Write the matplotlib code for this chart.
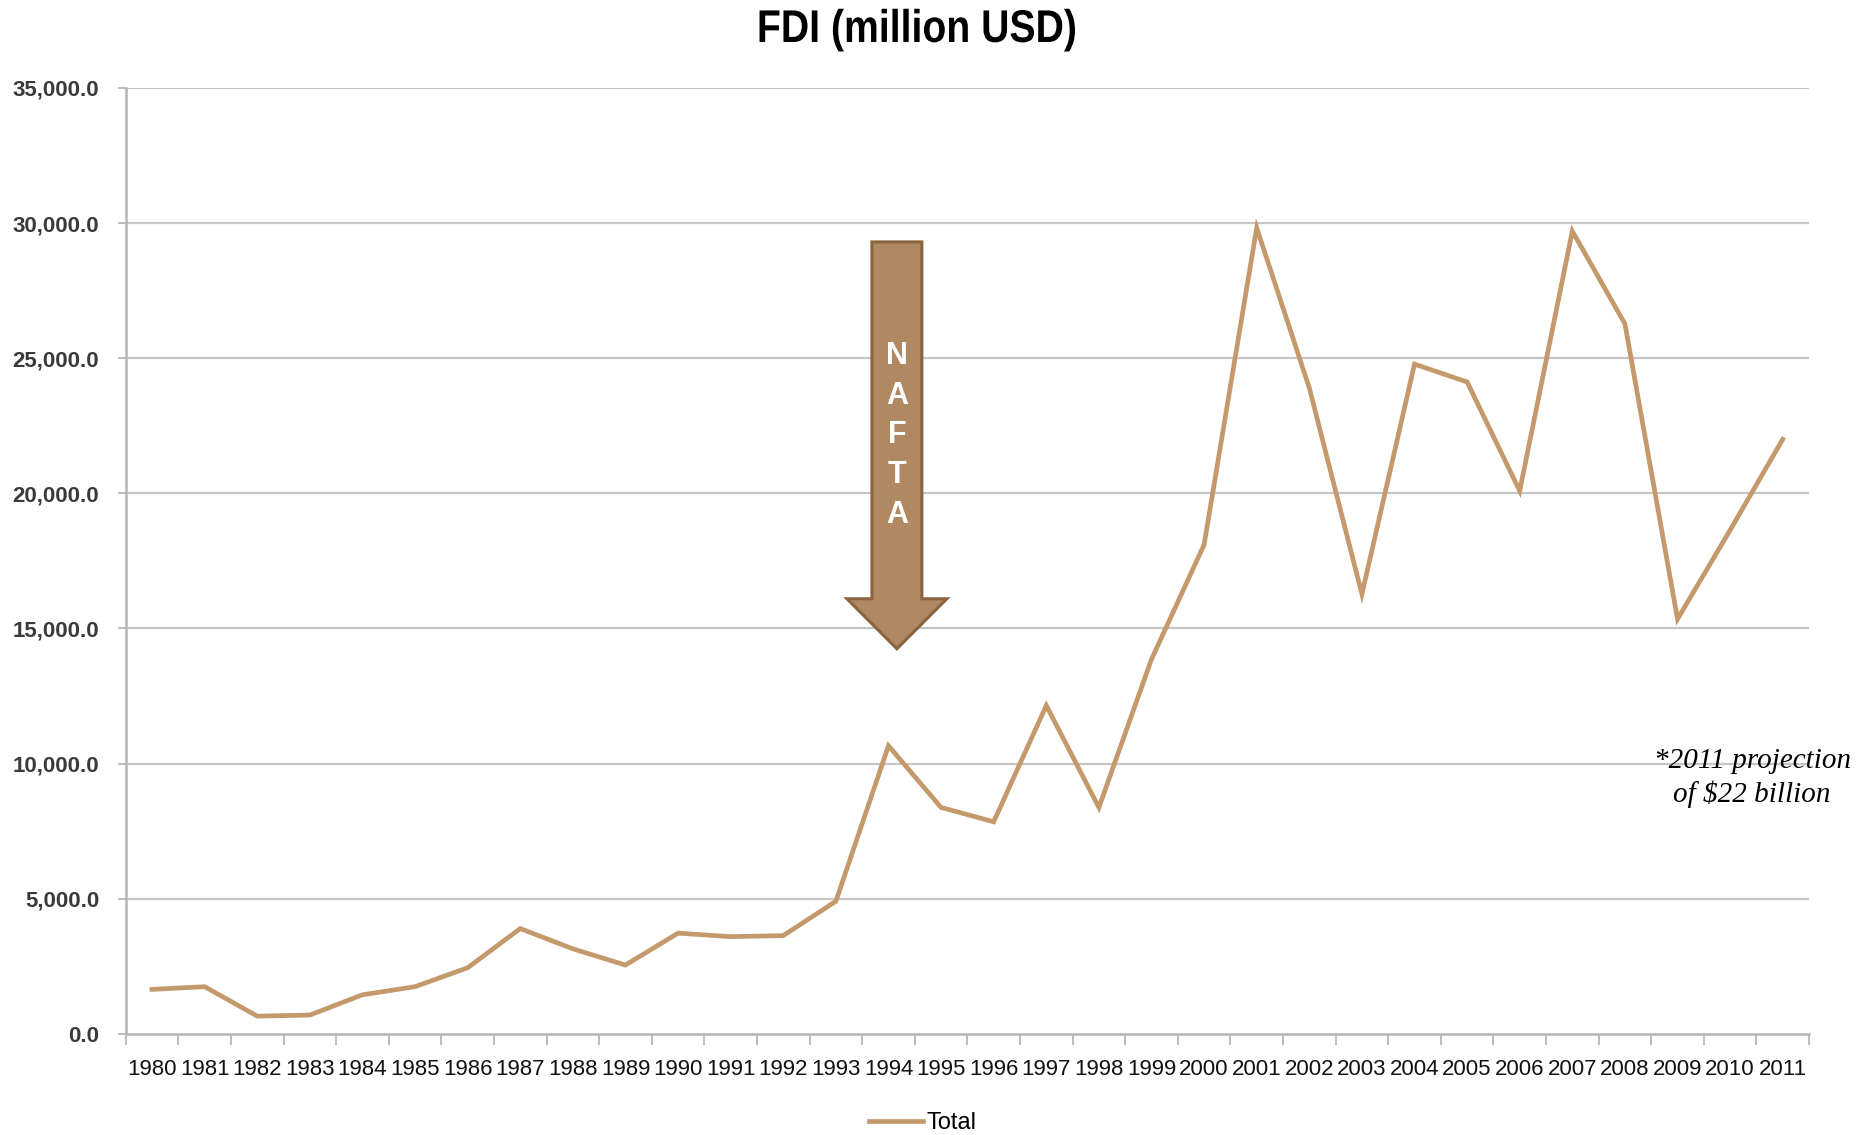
import matplotlib
matplotlib.use('Agg')
from matplotlib import pyplot as plt
from matplotlib.patches import FancyArrow
from matplotlib.patheffects import AbstractPathEffect
from matplotlib.transforms import Affine2D
import numpy as np

years = [str(y) for y in range(1980, 2012)]
fdi_total = [
    1650, 1750, 660, 700, 1450, 1750, 2450, 3900, 3150, 2550,
    3730, 3600, 3640, 4910, 10660, 8380, 7850, 12150, 8380, 13860,
    18100, 29820, 23900, 16270, 24780, 24120, 20090, 29700, 26270, 15350,
    18640, 22000,
]
yticks = [0, 5000, 10000, 15000, 20000, 25000, 30000, 35000]

line_color = '#C49A6C'


class Narrow(AbstractPathEffect):
    """Squeeze text horizontally about its centre (no condensed font here)."""

    def __init__(self, factor):
        super().__init__()
        self.factor = factor

    def draw_path(self, renderer, gc, tpath, affine, rgbFace=None):
        box = tpath.get_extents(affine)
        cx = 0.5 * (box.x0 + box.x1)
        squeeze = Affine2D().translate(-cx, 0).scale(self.factor, 1).translate(cx, 0)
        renderer.draw_path(gc, tpath, affine + squeeze, rgbFace)


fig = plt.figure(figsize=(18.6, 11.35), dpi=100)
ax = fig.add_axes([0.0676, 0.089, 0.905, 0.8336])

x = np.arange(len(years))
ax.plot(x, fdi_total, color=line_color, linewidth=3.4, label='Total',
        solid_joinstyle='miter', zorder=3)

ax.set_xlim(-0.5, len(years) - 0.5)
ax.set_ylim(0, 35000)

# gridlines only above zero, zero is the axis line itself
ax.set_yticks(yticks)
ax.set_yticklabels([f'{v:,.1f}' for v in yticks], fontsize=16,
                   fontweight='bold', color='#3a3a3a', family='Liberation Sans')
for v in yticks[1:]:
    ax.axhline(v, color='#c6c6c6', linewidth=1.6, zorder=1)

# category axis: ticks between years, labels centred on years
ax.set_xticks(np.arange(-0.5, len(years), 1.0))
ax.set_xticklabels([])
ax.set_xticks(x, minor=True)
ax.set_xticklabels(years, minor=True, fontsize=16, family='Liberation Sans',
                   color='#111111')
ax.tick_params(axis='x', which='major', length=8, width=1.2, color='#b0b0b0')
ax.tick_params(axis='x', which='minor', length=0, pad=18)
ax.tick_params(axis='y', length=6, width=1.2, color='#b0b0b0', pad=13)

for side in ('top', 'right'):
    ax.spines[side].set_visible(False)
for side in ('left', 'bottom'):
    ax.spines[side].set_color('#b4b4b4')
    ax.spines[side].set_linewidth(1.8)

# NAFTA arrow pointing down at 1994
arrow = FancyArrow(14.16, 29300, 0, 14250 - 29300, width=0.95,
                   head_width=1.9, head_length=1850, length_includes_head=True,
                   facecolor='#B08862', edgecolor='#8A6440', linewidth=2.2,
                   zorder=4)
ax.add_patch(arrow)
ax.text(14.16, 22150, '\n'.join('NAFTA'), ha='center', va='center',
        color='white', fontsize=22, fontweight='bold', linespacing=1.42,
        family='Liberation Sans', zorder=5)

ax.text(30.42, 9470, '*2011 projection\nof $22 billion', ha='center', va='center',
        fontsize=21, style='italic', family='Liberation Serif', linespacing=1.3,
        clip_on=False, zorder=5)

fig.text(0.493, 0.9736, 'FDI (million USD)', ha='center', va='center',
         fontsize=33, fontweight='bold', family='Liberation Sans',
         path_effects=[Narrow(0.855)])

leg = fig.legend(loc='center', bbox_to_anchor=(0.496, 0.0105), frameon=False,
                 prop={'family': 'Liberation Sans', 'size': 17}, handlelength=2.3,
                 handletextpad=0.15)

fig.savefig('out.png', dpi=100)
